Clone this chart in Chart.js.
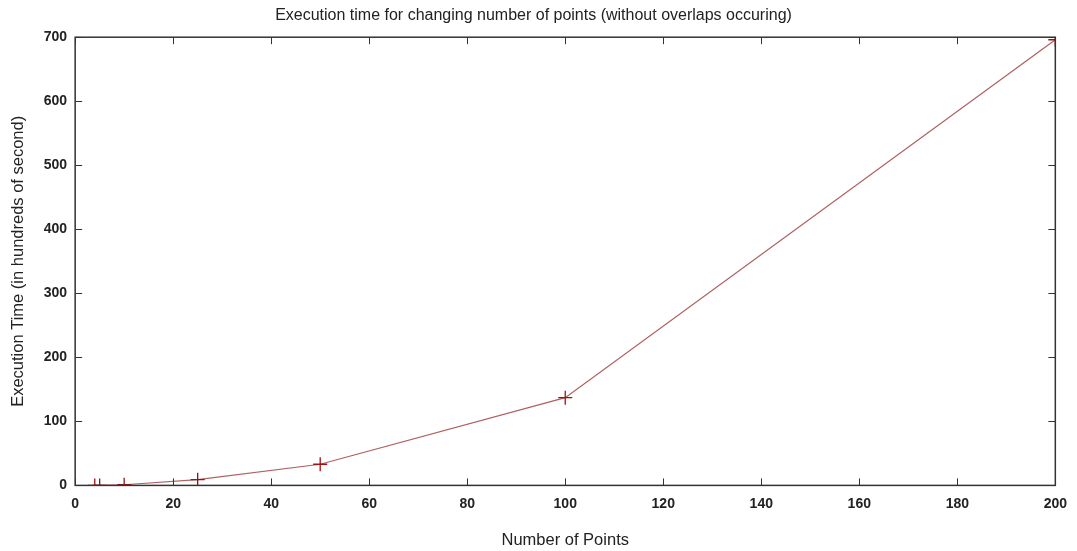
<!DOCTYPE html>
<html><head><meta charset="utf-8">
<script src="https://cdn.jsdelivr.net/npm/chart.js@4.4.0/dist/chart.umd.min.js"></script>
<style>html,body{margin:0;padding:0;background:#fff}#wrap{width:1077px;height:551px}</style>
</head><body><div id="wrap"><canvas id="c" width="1077" height="551"></canvas></div>
<script>
const numPoints = [4, 5, 10, 25, 50, 100, 200];
const execTime = [0, 0, 1, 9, 33, 137, 696];
const xTicks = [0, 20, 40, 60, 80, 100, 120, 140, 160, 180, 200];
const yTicks = [0, 100, 200, 300, 400, 500, 600, 700];

const FONT = "'Liberation Sans Narrow','Liberation Sans',Arial,sans-serif";

const frame = {
  id: 'frame',
  afterDraw(chart) {
    const {ctx, chartArea: a, scales: {x, y}} = chart;
    ctx.save();
    ctx.strokeStyle = '#333';
    ctx.lineWidth = 1.5;
    ctx.strokeRect(a.left, a.top, a.right - a.left, a.bottom - a.top);
    ctx.lineWidth = 1;
    ctx.beginPath();
    const L = 7;
    xTicks.forEach(v => {
      const px = Math.round(x.getPixelForValue(v)) + 0.5;
      ctx.moveTo(px, a.bottom); ctx.lineTo(px, a.bottom - L);
      ctx.moveTo(px, a.top); ctx.lineTo(px, a.top + L);
    });
    yTicks.forEach(v => {
      const py = Math.round(y.getPixelForValue(v)) + 0.5;
      ctx.moveTo(a.left, py); ctx.lineTo(a.left + L, py);
      ctx.moveTo(a.right, py); ctx.lineTo(a.right - L, py);
    });
    ctx.stroke();
    ctx.restore();
  }
};

new Chart(document.getElementById('c'), {
  type: 'line',
  data: {
    datasets: [{
      data: numPoints.map((v, i) => ({x: v, y: execTime[i]})),
      borderColor: '#b06060',
      borderWidth: 1.2,
      pointStyle: 'cross',
      pointRadius: 7,
      pointBorderColor: '#a01010',
      pointBorderWidth: 1.3,
      tension: 0
    }]
  },
  options: {
    responsive: false,
    animation: false,
    layout: {padding: {top: 3, right: 19, bottom: 0, left: 9}},
    plugins: {
      legend: {display: false},
      tooltip: {enabled: false},
      title: {
        display: true,
        text: 'Execution time for changing number of points (without overlaps occuring)',
        color: '#222',
        font: {family: FONT, size: 16, weight: 'normal'},
        padding: {top: 3, bottom: 12}
      }
    },
    scales: {
      x: {
        type: 'linear', min: 0, max: 200,
        afterBuildTicks: s => { s.ticks = xTicks.map(v => ({value: v})); },
        grid: {display: false, drawTicks: false},
        border: {display: false},
        ticks: {color: '#222', padding: 10, font: {family: FONT, size: 14, weight: 'bold'}},
        title: {display: true, text: 'Number of Points', color: '#222',
          font: {family: FONT, size: 16.5}, padding: {top: 8, bottom: 1}}
      },
      y: {
        type: 'linear', min: 0, max: 700,
        afterBuildTicks: s => { s.ticks = yTicks.map(v => ({value: v})); },
        grid: {display: false, drawTicks: false},
        border: {display: false},
        ticks: {color: '#222', padding: 8, font: {family: FONT, size: 14, weight: 'bold'}},
        title: {display: true, text: 'Execution Time (in hundreds of second)', color: '#222',
          font: {family: FONT, size: 16.5}, padding: {top: 0, bottom: 7}}
      }
    }
  },
  plugins: [frame]
});
</script></body></html>
